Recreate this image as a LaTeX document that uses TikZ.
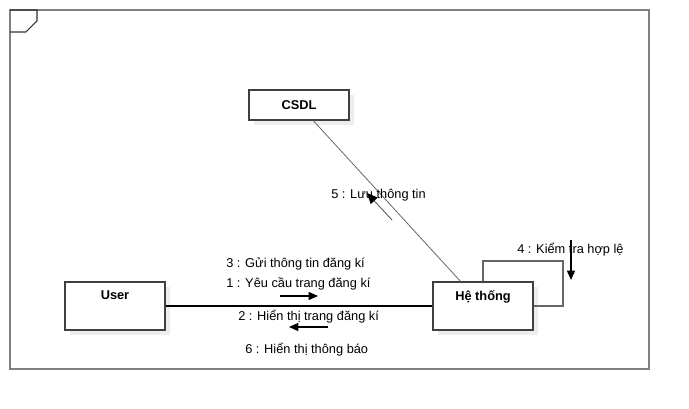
\documentclass[tikz,border=0pt]{standalone}
\usepackage{fontspec}
\setmainfont{Liberation Sans}
\usetikzlibrary{arrows.meta,shadows,calc}

\tikzset{
    objbox/.style={draw=black!75, line width=1.1pt, fill=white,
        minimum width=75pt, minimum height=36pt,
        drop shadow={shadow xshift=3.5pt, shadow yshift=-3.5pt, fill=black!7, opacity=1}},
    objname/.style={anchor=north, inner sep=0pt, yshift=-7pt, font=\fontsize{9.6}{11}\selectfont\bfseries},
    msg/.style={anchor=west, inner sep=0pt, yshift=-1pt},
    msgarrow/.style={line width=1.1pt, -{Triangle[length=7pt,width=6pt]}}
}

\begin{document}
\begin{tikzpicture}[x=0.75pt, y=-0.75pt, font=\fontsize{9.6}{11}\selectfont]
    \useasboundingbox (0,0) rectangle (689,409);
    % frame
    \draw[black!50, line width=1.5pt] (10,10) rectangle (649,369);
    \draw[black!80, line width=0.8pt] (10,10) -- (37,10) -- (37,21) -- (26,32) -- (10,32);

    % objects
    \node[objbox, minimum height=22.5pt, font=\fontsize{9.6}{11}\selectfont\bfseries] (csdl) at (299,105) {CSDL};
    \node[objbox, label={[objname]north:User}] (user) at (115,306) {};
    \node[objbox, label={[objname]north:Hệ thống}] (hethong) at (483,306) {};

    % links
    \draw[black!60, line width=0.6pt] (csdl) -- (hethong);
    \draw[line width=1.5pt] (user) -- (hethong);
    \draw[black!60, line width=1.5pt] (hethong.north) -- ++(0,-20) -| ($(hethong.east)+(29,0)$) -- (hethong.east);

    % messages
    \node[msg] at (226,263) {3 : Gửi thông tin đăng kí};
    \node[msg] at (226,283) {1 : Yêu cầu trang đăng kí};
    \coordinate (m1a) at (280,296);
    \coordinate (m1b) at (318,296);
    \draw[msgarrow] (m1a) -- (m1b);
    \node[msg] at (238,315) {2 : Hiển thị trang đăng kí};
    \coordinate (m2a) at (328,327);
    \coordinate (m2b) at (289,327);
    \draw[msgarrow] (m2a) -- (m2b);
    \node[msg] at (245,348) {6 : Hiển thị thông báo};

    \node[msg] at (331,194) {5 : Lưu thông tin};
    \coordinate (m5a) at (392,220);
    \coordinate (m5b) at (367,193);
    \draw[black!70, line width=0.6pt, -{Triangle[length=8pt,width=7pt,fill=black,color=black]}] (m5a) -- (m5b);

    \node[msg] at (517,248) {4 : Kiểm tra hợp lệ};
    \coordinate (m4a) at (571,240);
    \coordinate (m4b) at (571,280);
    \draw[msgarrow] (m4a) -- (m4b);
\end{tikzpicture}
\end{document}
